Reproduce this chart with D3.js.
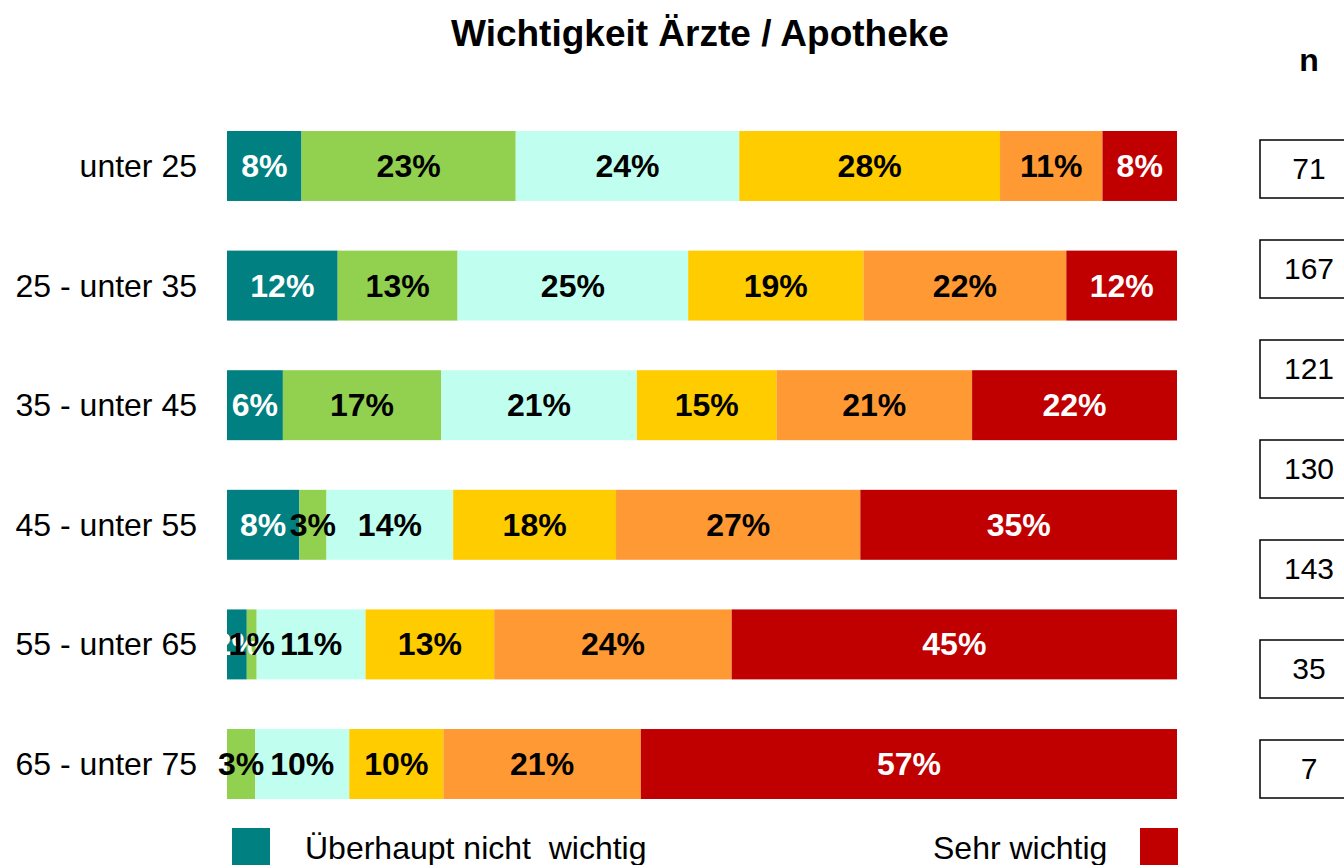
<!DOCTYPE html>
<html>
<head>
<meta charset="utf-8">
<script src="https://cdn.jsdelivr.net/npm/d3@7"></script>
<style>
  body { margin: 0; background: #fff; }
  svg { display: block; font-family: "Liberation Sans", Arial, sans-serif; }
</style>
</head>
<body>
<svg id="chart" width="1344" height="865"></svg>
<script>
// age groups (rows, top to bottom)
var ageGroups = ["unter 25", "25 - unter 35", "35 - unter 45", "45 - unter 55", "55 - unter 65", "65 - unter 75"];

// answer categories, from "not important at all" to "very important"
var levels = ["l1", "l2", "l3", "l4", "l5", "l6"];
var levelColors = ["#008080", "#92D050", "#C0FFEF", "#FFCC00", "#FF9933", "#C00000"];
var labelColors = ["#fff", "#000", "#000", "#000", "#000", "#fff"];

// percentages per row (as printed in the chart)
var pct1 = [8, 23, 24, 28, 11, 8];
var pct2 = [12, 13, 25, 19, 22, 12];
var pct3 = [6, 17, 21, 15, 21, 22];
var pct4 = [8, 3, 14, 18, 27, 35];
var pct5 = [2, 1, 11, 13, 24, 45];
var pct6 = [0, 3, 10, 10, 21, 57];
var rows = [pct1, pct2, pct3, pct4, pct5, pct6];

// sample sizes shown on the right
var nValues = [71, 167, 121, 130, 143, 35, 7];

var legendLeft = "Überhaupt nicht  wichtig";
var legendRight = "Sehr wichtig";

var svg = d3.select("#chart");

// title
svg.append("text")
    .attr("x", 700).attr("y", 46)
    .attr("text-anchor", "middle")
    .attr("font-size", 37).attr("font-weight", "bold")
    .text("Wichtigkeit Ärzte / Apotheke");

svg.append("text")
    .attr("x", 1309).attr("y", 71)
    .attr("text-anchor", "middle")
    .attr("font-size", 32).attr("font-weight", "bold")
    .text("n");

// scales
var x = d3.scaleLinear().domain([0, 1]).range([227, 1177]);
var y = d3.scaleBand().domain(ageGroups).range([131, 799]).paddingInner(0.415);

// build stacked table (each row normalised to its own total, like a 100% stacked bar)
var table = rows.map(function(r, i) {
    var o = { age: ageGroups[i] };
    var total = d3.sum(r);
    levels.forEach(function(k, j) { o[k] = r[j] / total; o[k + "_pct"] = r[j]; });
    return o;
});
var series = d3.stack().keys(levels)(table);

// bars
var layer = svg.append("g").selectAll("g")
    .data(series)
    .enter().append("g")
    .attr("fill", function(d, i) { return levelColors[i]; });

layer.selectAll("rect")
    .data(function(d) { return d; })
    .enter().append("rect")
    .attr("x", function(d) { return x(d[0]); })
    .attr("y", function(d) { return y(d.data.age); })
    .attr("width", function(d) { return x(d[1]) - x(d[0]); })
    .attr("height", y.bandwidth());

// value labels
series.forEach(function(s, i) {
    svg.append("g").selectAll("text")
        .data(s.filter(function(d) { return d.data[levels[i] + "_pct"] > 0; }))
        .enter().append("text")
        .attr("x", function(d) { return (x(d[0]) + x(d[1])) / 2; })
        .attr("y", function(d) { return y(d.data.age) + y.bandwidth() / 2 + 11; })
        .attr("text-anchor", "middle")
        .attr("font-size", 32).attr("font-weight", "bold")
        .attr("fill", labelColors[i])
        .text(function(d) { return d.data[levels[i] + "_pct"] + "%"; });
});

// category labels
svg.append("g").selectAll("text")
    .data(ageGroups)
    .enter().append("text")
    .attr("x", 197)
    .attr("y", function(d) { return y(d) + y.bandwidth() / 2 + 11; })
    .attr("text-anchor", "end")
    .attr("font-size", 32)
    .text(function(d) { return d; });

// n boxes
var yn = d3.scalePoint().domain(d3.range(nValues.length)).range([140, 740]);
var nBox = svg.append("g").selectAll("g")
    .data(nValues)
    .enter().append("g")
    .attr("transform", function(d, i) { return "translate(1260," + yn(i) + ")"; });

nBox.append("rect")
    .attr("width", 100).attr("height", 58)
    .attr("fill", "#fff").attr("stroke", "#000").attr("stroke-width", 1.5);

nBox.append("text")
    .attr("x", 49).attr("y", 39)
    .attr("text-anchor", "middle")
    .attr("font-size", 30)
    .text(function(d) { return d; });

// legend
svg.append("rect")
    .attr("x", 232).attr("y", 828).attr("width", 38).attr("height", 40)
    .attr("fill", levelColors[0]);
svg.append("text")
    .attr("x", 305).attr("y", 859)
    .attr("font-size", 32)
    .style("white-space", "pre")
    .text(legendLeft);

svg.append("text")
    .attr("x", 933).attr("y", 859)
    .attr("font-size", 32)
    .text(legendRight);
svg.append("rect")
    .attr("x", 1140).attr("y", 828).attr("width", 38).attr("height", 40)
    .attr("fill", levelColors[5]);
</script>
</body>
</html>
